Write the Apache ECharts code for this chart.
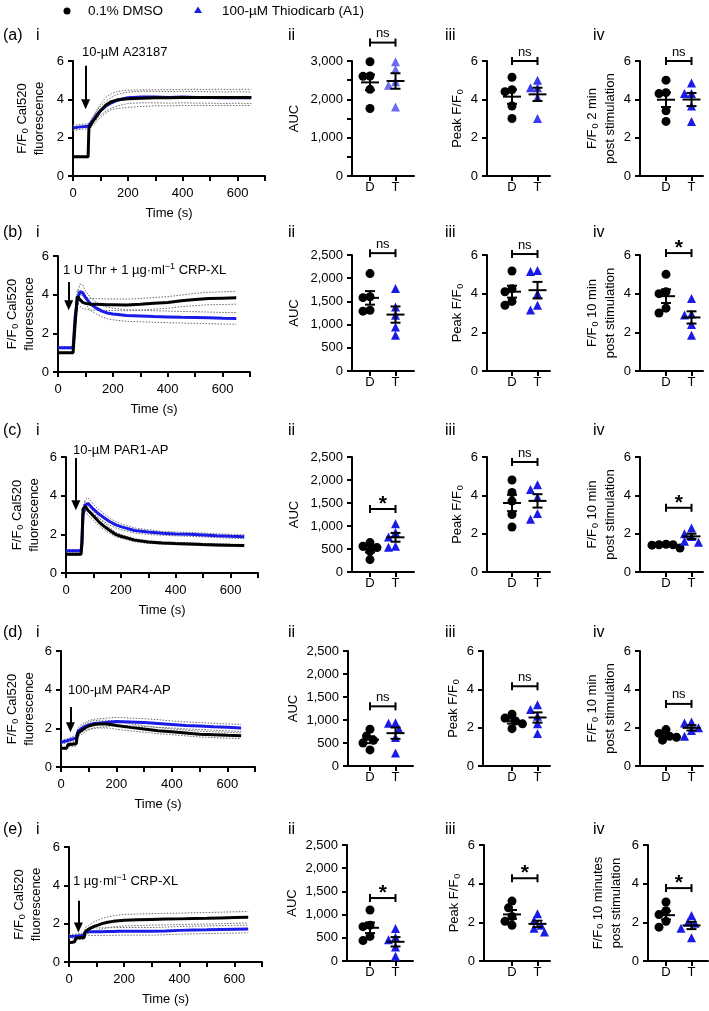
<!DOCTYPE html>
<html><head><meta charset="utf-8">
<script src="https://cdn.jsdelivr.net/npm/echarts@6.0.0/dist/echarts.min.js"></script>
<style>html,body{margin:0;padding:0;background:#fff;}#chart{width:709px;height:1011px;}</style>
</head><body><div id="chart"></div>
<script>
// ================= DATA =================
const seriesNames = ['0.1% DMSO', '100-µM Thiodicarb (A1)'];
const groupLabels = ['D', 'T'];
const time = [0,20,25,55,58,62,70,80,90,100,120,140,160,180,200,250,300,350,400,450,500,550,600,650];
const stimuli = ['10-µM A23187', '1 U Thr + 1 µg·ml{sup|−1} CRP-XL', '10-µM PAR1-AP', '100-µM PAR4-AP', '1 µg·ml{sup|−1} CRP-XL'];

// (a) A23187
const dmsoA = [1.0,1.0,1.0,1.0,2.5,2.6,2.8,3.0,3.2,3.4,3.7,3.88,3.96,4.0,4.03,4.06,4.08,4.08,4.1,4.1,4.1,4.1,4.1,4.1];
const thioA = [2.5,2.55,2.55,2.6,2.65,2.7,2.85,3.05,3.25,3.4,3.65,3.82,3.95,4.02,4.08,4.12,4.12,4.1,4.12,4.1,4.1,4.08,4.1,4.08];
const semDmsoA = [0.04,0.04,0.04,0.04,0.1,0.15,0.2,0.25,0.3,0.35,0.4,0.42,0.44,0.45,0.45,0.43,0.42,0.42,0.42,0.42,0.42,0.42,0.42,0.42];
const semThioA = [0.13,0.13,0.13,0.13,0.14,0.15,0.18,0.2,0.22,0.24,0.26,0.28,0.3,0.3,0.3,0.3,0.3,0.3,0.3,0.3,0.3,0.3,0.3,0.3];
// (b) Thr + CRP-XL
const dmsoB = [1.0,1.0,1.0,1.0,1.6,2.4,3.9,3.75,3.6,3.55,3.5,3.5,3.49,3.48,3.48,3.47,3.5,3.55,3.6,3.68,3.75,3.8,3.82,3.84];
const thioB = [1.25,1.25,1.25,1.25,1.9,2.8,3.7,4.15,4.1,3.85,3.5,3.3,3.15,3.05,3.0,2.92,2.9,2.87,2.85,2.83,2.82,2.8,2.78,2.77];
const semDmsoB = [0.04,0.04,0.04,0.04,0.1,0.2,0.35,0.35,0.32,0.3,0.3,0.3,0.3,0.3,0.3,0.3,0.3,0.3,0.3,0.3,0.32,0.32,0.33,0.33];
const semThioB = [0.05,0.05,0.05,0.05,0.1,0.2,0.3,0.4,0.4,0.35,0.32,0.3,0.3,0.3,0.3,0.3,0.3,0.3,0.3,0.3,0.3,0.3,0.3,0.3];
// (c) PAR1-AP
const dmsoC = [0.97,0.97,0.97,0.97,1.5,3.3,3.45,3.25,3.1,2.95,2.65,2.4,2.2,2.0,1.9,1.7,1.6,1.55,1.52,1.5,1.47,1.45,1.43,1.42];
const thioC = [1.15,1.15,1.15,1.15,1.6,3.0,3.5,3.6,3.45,3.3,3.05,2.85,2.65,2.5,2.4,2.2,2.12,2.05,2.02,2.0,1.97,1.93,1.9,1.88];
const semDmsoC = [0.05,0.05,0.05,0.05,0.1,0.2,0.25,0.25,0.25,0.22,0.2,0.18,0.15,0.12,0.1,0.08,0.07,0.06,0.06,0.06,0.06,0.06,0.06,0.06];
const semThioC = [0.06,0.06,0.06,0.06,0.1,0.2,0.28,0.3,0.28,0.25,0.22,0.2,0.18,0.16,0.15,0.13,0.12,0.1,0.1,0.1,0.1,0.1,0.1,0.1];
// (d) PAR4-AP
const dmsoD = [0.97,0.97,1.15,1.2,1.55,1.75,1.85,1.95,2.05,2.12,2.2,2.22,2.22,2.2,2.15,2.05,1.97,1.88,1.82,1.76,1.7,1.67,1.64,1.62];
const thioD = [1.28,1.35,1.38,1.5,1.7,1.85,1.95,2.05,2.12,2.18,2.25,2.28,2.3,2.33,2.35,2.33,2.3,2.25,2.2,2.15,2.12,2.08,2.05,2.02];
const semDmsoD = [0.05,0.05,0.1,0.12,0.15,0.18,0.2,0.2,0.2,0.2,0.2,0.2,0.2,0.2,0.2,0.18,0.17,0.16,0.15,0.15,0.15,0.15,0.15,0.15];
const semThioD = [0.1,0.1,0.12,0.15,0.18,0.2,0.2,0.2,0.2,0.22,0.22,0.22,0.22,0.22,0.22,0.2,0.2,0.2,0.18,0.18,0.18,0.18,0.18,0.18];
// (e) CRP-XL
const dmsoE = [1.0,1.05,1.25,1.28,1.55,1.65,1.7,1.78,1.85,1.9,2.0,2.07,2.12,2.15,2.18,2.2,2.22,2.24,2.25,2.27,2.28,2.3,2.32,2.33];
const thioE = [1.33,1.35,1.42,1.4,1.55,1.58,1.58,1.58,1.58,1.58,1.58,1.59,1.59,1.6,1.6,1.6,1.6,1.62,1.65,1.67,1.68,1.7,1.71,1.72];
const semDmsoE = [0.05,0.05,0.1,0.1,0.15,0.18,0.2,0.22,0.24,0.25,0.27,0.28,0.29,0.3,0.3,0.3,0.3,0.3,0.3,0.3,0.3,0.3,0.3,0.3];
const semThioE = [0.1,0.1,0.12,0.12,0.15,0.17,0.18,0.2,0.2,0.2,0.2,0.2,0.2,0.2,0.2,0.2,0.2,0.2,0.2,0.2,0.2,0.2,0.2,0.2];

// Per-donor summary values (5 donors): AUC, peak F/F0, F/F0 post stimulation
const auc_a_D = [2980,2610,2600,2260,1760];  const auc_a_T = [2980,2780,2460,2370,1800];
const peak_a_D = [5.15,4.5,4.4,3.65,3.0];     const peak_a_T = [5.0,4.6,4.6,4.1,3.0];
const post_a_D = [5.0,4.35,4.3,3.4,2.85];     const post_a_T = [4.85,4.3,4.3,3.65,2.85];

const auc_b_D = [2100,1600,1580,1310,1290];  const auc_b_T = [1780,1380,1200,950,770];
const peak_b_D = [5.17,4.25,4.1,3.6,3.4];     const peak_b_T = [5.2,5.15,4.0,3.4,3.15];
const post_b_D = [5.0,4.1,4.0,3.25,3.0];      const post_b_T = [3.75,2.95,2.9,2.4,1.85];

const auc_c_D = [640,560,530,450,270];       const auc_c_T = [1050,860,760,560,540];
const peak_c_D = [4.8,4.15,3.7,3.0,2.35];     const peak_c_T = [4.55,4.3,3.9,3.05,2.75];
const post_c_D = [1.45,1.42,1.42,1.4,1.25];   const post_c_T = [2.3,2.0,1.85,1.6,1.55];

const auc_d_D = [800,650,560,500,350];       const auc_d_T = [940,930,800,620,280];
const peak_d_D = [2.7,2.5,2.35,2.2,1.95];     const peak_d_T = [3.2,2.95,2.6,2.2,1.7];
const post_d_D = [1.9,1.7,1.55,1.5,1.35];     const post_d_T = [2.3,2.25,2.0,1.85,1.55];

const auc_e_D = [1100,770,740,530,440];      const auc_e_T = [700,510,460,300,100];
const peak_e_D = [3.1,2.75,2.3,2.05,1.85];    const peak_e_T = [2.45,2.1,1.85,1.7,1.5];
const post_e_D = [3.05,2.6,2.4,2.05,1.75];    const post_e_T = [2.35,2.0,1.95,1.7,1.2];

const sig_a = ['ns','ns','ns'];
const sig_b = ['ns','ns','*'];
const sig_c = ['*','ns','*'];
const sig_d = ['ns','ns','ns'];
const sig_e = ['*','*','*'];

// ================= LAYOUT / STYLE =================
const FONT = '"Liberation Sans", Arial, Helvetica, sans-serif';
const BLUE = '#1b1be8';
const axisLineS = {show:true, onZero:false, lineStyle:{color:'#000', width:2}};
const axisTickS = {show:true, length:5, lineStyle:{color:'#000', width:2}};
const lblS = {color:'#000', fontSize:13, fontFamily:FONT};
const subRich = {s:{fontSize:9, fontFamily:FONT, color:'#000', padding:[6,0,0,1]}};
const comma = v => Number(v).toLocaleString('en-US');
const xTicksShown = [0,200,400,600];

const rows = [
  {tag:'(a)', labelY:36, dmso:dmsoA, thio:thioA, semD:semDmsoA, semT:semThioA,
   tc:{left:73, top:61, width:192, height:115, nameGap:25},
   scTop:61, scH:115, sc:[[352,414,370],[487,550,512],[640,703,666]],
   aucMax:3000, aucEvery:1000, postName:'F/F{s|0} 2 min\npost stimulation',
   vals:[[auc_a_D,auc_a_T],[peak_a_D,peak_a_T],[post_a_D,post_a_T]], sig:sig_a, br:[3480,6.0,6.0],
   stim:stimuli[0], stimPos:[82,52], arrow:[46,5.75,3.75], tri:['#6a6af2','#3a3af0',BLUE]},
  {tag:'(b)', labelY:233, dmso:dmsoB, thio:thioB, semD:semDmsoB, semT:semThioB,
   tc:{left:58, top:256, width:192, height:116, nameGap:16},
   scTop:255, scH:116, sc:[[352,414,370],[487,550,512],[640,703,666]],
   aucMax:2500, aucEvery:500, postName:'F/F{s|0} 10 min\npost stimulation',
   vals:[[auc_b_D,auc_b_T],[peak_b_D,peak_b_T],[post_b_D,post_b_T]], sig:sig_b, br:[2540,6.05,6.1],
   stim:stimuli[1], stimPos:[63,270], arrow:[39,4.65,3.45], tri:[BLUE,BLUE,BLUE]},
  {tag:'(c)', labelY:431, dmso:dmsoC, thio:thioC, semD:semDmsoC, semT:semThioC,
   tc:{left:66, top:457, width:192, height:116, nameGap:23},
   scTop:457, scH:115, sc:[[352,414,370],[487,550,512],[640,703,666]],
   aucMax:2500, aucEvery:500, postName:'F/F{s|0} 10 min\npost stimulation',
   vals:[[auc_c_D,auc_c_T],[peak_c_D,peak_c_T],[post_c_D,post_c_T]], sig:sig_c, br:[1370,5.74,3.35],
   stim:stimuli[2], stimPos:[73,450], arrow:[36,5.95,3.5], tri:[BLUE,BLUE,BLUE]},
  {tag:'(d)', labelY:633, dmso:dmsoD, thio:thioD, semD:semDmsoD, semT:semThioD,
   tc:{left:61, top:651, width:194, height:116, nameGap:23},
   scTop:651, scH:115, sc:[[348,413,370],[483,550,512],[640,703,666]],
   aucMax:2500, aucEvery:500, postName:'F/F{s|0} 10 min\npost stimulation',
   vals:[[auc_d_D,auc_d_T],[peak_d_D,peak_d_T],[post_d_D,post_d_T]], sig:sig_d, br:[1297,4.16,3.24],
   stim:stimuli[3], stimPos:[68,690], arrow:[34,3.1,2.05], tri:[BLUE,BLUE,BLUE]},
  {tag:'(e)', labelY:830, dmso:dmsoE, thio:thioE, semD:semDmsoE, semT:semThioE,
   tc:{left:69, top:847, width:193, height:115, nameGap:24},
   scTop:845, scH:116, sc:[[347,413,370],[484,550,512],[648,708,666]],
   aucMax:2500, aucEvery:500, postName:'F/F{s|0} 10 minutes\npost stimulation',
   vals:[[auc_e_D,auc_e_T],[peak_e_D,peak_e_T],[post_e_D,post_e_T]], sig:sig_e, br:[1357,4.28,3.77],
   stim:stimuli[4], stimPos:[73,881], arrow:[34,3.2,1.8], tri:[BLUE,BLUE,BLUE]}
];

const option = {animation:false, backgroundColor:'#fff', grid:[], xAxis:[], yAxis:[], series:[], graphic:[]};

const mean = a => a.reduce((s,v)=>s+v,0)/a.length;
const semOf = a => { const m = mean(a); return Math.sqrt(a.reduce((s,v)=>s+(v-m)*(v-m),0)/(a.length-1))/Math.sqrt(a.length); };

// simple beeswarm spread (px offsets) for overlapping points
function swarm(vals, center, pxPerY, pxPerX) {
  const idx = vals.map((v,i)=>i).sort((a,b)=>vals[b]-vals[a]);
  const placed = [], out = new Array(vals.length);
  const cands = [0,-3.5,3.5,-7,7,-10.5,10.5,-14,14,-17.5,17.5];
  for (const i of idx) {
    const y = vals[i]*pxPerY;
    let off = 0;
    for (const c of cands) {
      if (placed.every(p => Math.hypot(p.x-c, p.y-y) >= 7)) { off = c; break; }
    }
    placed.push({x:off, y});
    out[i] = [center + off/pxPerX, vals[i]];
  }
  return out;
}

function addTimePanel(r) {
  const gi = option.grid.length;
  option.grid.push({left:r.tc.left, top:r.tc.top, width:r.tc.width, height:r.tc.height, containLabel:false, outerBoundsMode:'none'});
  option.xAxis.push({gridIndex:gi, type:'value', min:0, max:700, interval:100,
    name:'Time (s)', nameLocation:'middle', nameGap:31, nameTextStyle:{color:'#000', fontSize:13, fontFamily:FONT},
    axisLine:axisLineS, axisTick:axisTickS, splitLine:{show:false},
    axisLabel:Object.assign({margin:11, formatter: v => (xTicksShown.includes(v) ? String(v) : '')}, lblS)});
  option.yAxis.push({gridIndex:gi, type:'value', min:0, max:6, interval:2,
    name:'F/F{s|0} Cal520\nfluorescence', nameLocation:'middle', nameGap:r.tc.nameGap,
    nameTextStyle:{color:'#000', fontSize:13, fontFamily:FONT, lineHeight:17, rich:subRich},
    axisLine:axisLineS, axisTick:axisTickS, splitLine:{show:false}, axisLabel:Object.assign({margin:9}, lblS)});
  const semLine = (m, s, sign) => ({type:'line', xAxisIndex:gi, yAxisIndex:gi, silent:true, showSymbol:false, z:1,
    data: time.map((t,i)=>[t, m[i] + sign*s[i]]), lineStyle:{color:'#6a6a6a', width:1, type:[1.5,1.5]}});
  option.series.push(semLine(r.dmso, r.semD, 1), semLine(r.dmso, r.semD, -1), semLine(r.thio, r.semT, 1), semLine(r.thio, r.semT, -1));
  option.series.push({type:'line', name:seriesNames[1], xAxisIndex:gi, yAxisIndex:gi, showSymbol:false, z:2,
    data: time.map((t,i)=>[t, r.thio[i]]), lineStyle:{color:BLUE, width:3}});
  option.series.push({type:'line', name:seriesNames[0], xAxisIndex:gi, yAxisIndex:gi, showSymbol:false, z:3,
    data: time.map((t,i)=>[t, r.dmso[i]]), lineStyle:{color:'#000', width:3},
    markLine:{silent:true, symbol:['none','triangle'], symbolSize:[9,10], symbolRotate:180, label:{show:false}, animation:false,
      itemStyle:{color:'#000'},
      lineStyle:{color:'#000', width:2, type:'solid', opacity:1}, emphasis:{disabled:true},
      data:[[{coord:[r.arrow[0], r.arrow[1]]},{coord:[r.arrow[0], r.arrow[2]]}]]}});
  option.graphic.push({type:'text', x:r.stimPos[0], y:r.stimPos[1], z:50, style:{text:r.stim, fill:'#000', fontSize:13, fontFamily:FONT,
    verticalAlign:'middle', rich:{sup:{fontSize:9, fontFamily:FONT, fill:'#000', padding:[0,0,7,0]}}}});
}

function addScatterPanel(r, k) {
  const [left, right, dx] = r.sc[k];
  const width = right - left, height = r.scH;
  const pxPerX = 25.5;
  const xmin = 1 - (dx - left)/pxPerX, xmax = xmin + width/pxPerX;
  const isAuc = k === 0;
  const ymax = isAuc ? r.aucMax : 6;
  const gi = option.grid.length;
  option.grid.push({left, top:r.scTop, width, height, containLabel:false, outerBoundsMode:'none'});
  option.xAxis.push({gridIndex:gi, type:'value', min:xmin, max:xmax,
    axisLine:axisLineS, axisTick:Object.assign({customValues:[1,2]}, axisTickS), splitLine:{show:false},
    axisLabel:Object.assign({margin:5, customValues:[1,2], formatter: v => groupLabels[Math.round(v)-1] || ''}, lblS)});
  const names = ['AUC', 'Peak F/F{s|0}', r.postName];
  const edges = [303, 469, 625];
  option.yAxis.push({gridIndex:gi, type:'value', min:0, max:ymax, interval: isAuc ? 500 : 2,
    name:names[k], nameLocation:'middle', nameGap: left - edges[k],
    nameTextStyle:{color:'#000', fontSize:13, fontFamily:FONT, lineHeight:18, rich:subRich},
    axisLine:axisLineS, axisTick:axisTickS, splitLine:{show:false},
    axisLabel:Object.assign({margin:9, formatter: v => (isAuc ? (v % r.aucEvery === 0 ? comma(v) : '') : String(v))}, lblS)});
  const [dv, tv] = r.vals[k];
  const pxPerY = height / ymax;
  option.series.push({type:'scatter', name:seriesNames[0], xAxisIndex:gi, yAxisIndex:gi, symbol:'circle', symbolSize:9, z:3,
    itemStyle:{color:'#000', opacity:1}, data: swarm(dv, 1, pxPerY, pxPerX)});
  option.series.push({type:'scatter', name:seriesNames[1], xAxisIndex:gi, yAxisIndex:gi, symbol:'triangle', symbolSize:9, z:3,
    itemStyle:{color:r.tri[k], opacity:1}, data: swarm(tv, 2, pxPerY, pxPerX)});
  // mean ± SEM
  option.series.push({type:'custom', xAxisIndex:gi, yAxisIndex:gi, z:5, silent:true,
    data:[[1, mean(dv), semOf(dv)], [2, mean(tv), semOf(tv)]],
    renderItem:(params, api) => {
      const x = api.value(0), m = api.value(1), s = api.value(2);
      const c = api.coord([x, m]), hi = api.coord([x, m + s]), lo = api.coord([x, m - s]);
      const st = {stroke:'#000', lineWidth:2};
      return {type:'group', children:[
        {type:'line', shape:{x1:c[0]-9, y1:c[1], x2:c[0]+9, y2:c[1]}, style:st},
        {type:'line', shape:{x1:c[0], y1:hi[1], x2:c[0], y2:lo[1]}, style:st},
        {type:'line', shape:{x1:c[0]-5, y1:hi[1], x2:c[0]+5, y2:hi[1]}, style:st},
        {type:'line', shape:{x1:c[0]-5, y1:lo[1], x2:c[0]+5, y2:lo[1]}, style:st}
      ]};
    }});
  // significance bracket
  const label = r.sig[k];
  option.series.push({type:'custom', xAxisIndex:gi, yAxisIndex:gi, z:5, silent:true, clip:false,
    data:[[1.5, r.br[k]]],
    renderItem:(params, api) => {
      const y = api.value(1);
      const a = api.coord([1, y]), b = api.coord([2, y]);
      const st = {stroke:'#000', lineWidth:2};
      const star = label === '*';
      return {type:'group', children:[
        {type:'line', shape:{x1:a[0], y1:a[1], x2:b[0], y2:b[1]}, style:st},
        {type:'line', shape:{x1:a[0], y1:a[1]-4, x2:a[0], y2:a[1]+4}, style:st},
        {type:'line', shape:{x1:b[0], y1:b[1]-4, x2:b[0], y2:b[1]+4}, style:st},
        {type:'text', style:{text:label, x:(a[0]+b[0])/2, y:a[1] - (star ? 5 : 9), align:'center', verticalAlign:'middle',
          fill:'#000', fontSize: star ? 21 : 13, fontWeight: star ? 'bold' : 'normal', fontFamily:FONT}}
      ]};
    }});
}

rows.forEach(r => {
  addTimePanel(r);
  [0,1,2].forEach(k => addScatterPanel(r, k));
  const tStyle = {fill:'#000', fontSize:16, fontFamily:FONT, verticalAlign:'middle'};
  option.graphic.push({type:'text', x:3, y:r.labelY, style:Object.assign({text:r.tag}, tStyle)});
  option.graphic.push({type:'text', x:36, y:r.labelY, style:Object.assign({text:'i'}, tStyle)});
  option.graphic.push({type:'text', x:288, y:r.labelY, style:Object.assign({text:'ii'}, tStyle)});
  option.graphic.push({type:'text', x:445, y:r.labelY, style:Object.assign({text:'iii'}, tStyle)});
  option.graphic.push({type:'text', x:593, y:r.labelY, style:Object.assign({text:'iv'}, tStyle)});
});

// legend
option.graphic.push({type:'circle', shape:{cx:67, cy:11, r:3.5}, style:{fill:'#000'}});
option.graphic.push({type:'text', x:88, y:11, style:{text:seriesNames[0], fill:'#000', fontSize:13.5, fontFamily:FONT, verticalAlign:'middle'}});
option.graphic.push({type:'polygon', shape:{points:[[198,6.5],[202,13],[194,13]]}, style:{fill:BLUE}});
option.graphic.push({type:'text', x:222, y:11, style:{text:seriesNames[1], fill:'#000', fontSize:13.5, fontFamily:FONT, verticalAlign:'middle'}});

const chart = echarts.init(document.getElementById('chart'), null, {renderer:'canvas'});
chart.setOption(option);
</script>
</body></html>
